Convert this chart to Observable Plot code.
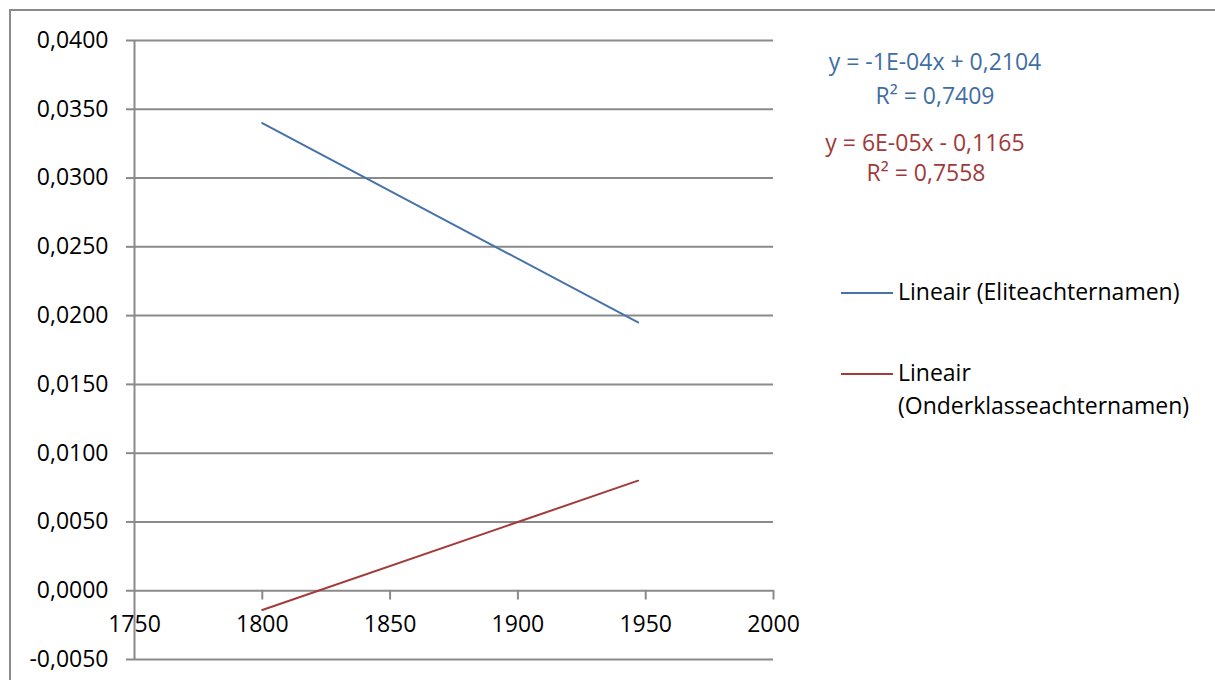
<!DOCTYPE html>
<html>
<head>
<meta charset="utf-8">
<script src="https://cdn.jsdelivr.net/npm/d3@7"></script>
<script src="https://cdn.jsdelivr.net/npm/@observablehq/plot@0.6"></script>
<style>
  html, body { margin: 0; padding: 0; background: #fff; }
  #wrap { position: relative; width: 1215px; height: 680px; overflow: hidden; font-family: "Open Sans", sans-serif; }
  #border { position: absolute; left: 9px; top: 9px; width: 1220px; height: 700px; border-left: 2px solid #8a8a8a; border-top: 2px solid #8a8a8a; box-sizing: border-box; }
  #chart { position: absolute; left: 0; top: 0; }
  .ann { position: absolute; font-size: 23px; white-space: nowrap; transform: translate(-50%, -50%); }
  .leg { position: absolute; font-size: 23px; color: #000; white-space: nowrap; line-height: 33px; }
  .swatch { position: absolute; height: 2px; width: 52px; }
</style>
</head>
<body>
<div id="wrap">
  <div id="border"></div>
  <div id="chart"></div>
</div>
<script>
// Data
const years = [1800, 1947];
const eliteValues = [0.0340, 0.0195];
const onderValues = [-0.0014, 0.0080];
const seriesNames = ["Lineair (Eliteachternamen)", "Lineair (Onderklasseachternamen)"];
const seriesColors = ["#4672a8", "#a33b3b"];
const equations = ["y = -1E-04x + 0,2104", "y = 6E-05x - 0,1165"];
const rSquared = ["R² = 0,7409", "R² = 0,7558"];
const xTicks = [1750, 1800, 1850, 1900, 1950, 2000];
const yTicks = [-0.005, 0, 0.005, 0.01, 0.015, 0.02, 0.025, 0.03, 0.035, 0.04];

const elite = years.map((x, i) => ({x, y: eliteValues[i]}));
const onder = years.map((x, i) => ({x, y: onderValues[i]}));

const fmt = d => d.toFixed(4).replace(".", ",");
const gridColor = "#8a8a8a";

const tickShape = {draw(ctx, l) { ctx.moveTo(0, 0); ctx.lineTo(0, -l); }};

const plot = Plot.plot({
  width: 1215,
  height: 680,
  marginLeft: 134,
  marginRight: 442,
  marginTop: 40,
  marginBottom: 21,
  style: {fontFamily: "Open Sans, sans-serif", fontSize: "23px", color: "#000", background: "transparent"},
  x: {domain: [1750, 2000], axis: null},
  y: {domain: [-0.005, 0.04], axis: null},
  marks: [
    Plot.gridY(yTicks, {stroke: gridColor, strokeOpacity: 1, strokeWidth: 2}),
    Plot.axisY(yTicks, {tickSize: 8, tickPadding: 18, tickFormat: fmt, stroke: gridColor, strokeWidth: 2, fontSize: 23, fill: "#000", label: null}),
    Plot.ruleX([1750], {stroke: gridColor, strokeWidth: 2}),
    Plot.vector(xTicks.slice(1), {x: d => d, y: 0, length: 8, rotate: 180, anchor: "start", shape: tickShape, stroke: gridColor, strokeWidth: 2}),
    Plot.text(xTicks, {x: d => d, y: 0, dy: 34, text: d => String(d), fontSize: 23, fill: "#000"}),
    Plot.line(elite, {x: "x", y: "y", stroke: seriesColors[0], strokeWidth: 2}),
    Plot.line(onder, {x: "x", y: "y", stroke: seriesColors[1], strokeWidth: 2})
  ]
});
document.getElementById("chart").appendChild(plot);

const wrap = document.getElementById("wrap");
const textColors = ["#3f6ea3", "#a03a3a"];
// Equation annotations
const annPos = [[935, 61], [935, 95], [925, 142], [926, 172]];
const annTexts = [equations[0], rSquared[0], equations[1], rSquared[1]];
annTexts.forEach((t, i) => {
  const d = document.createElement("div");
  d.className = "ann";
  d.style.left = annPos[i][0] + "px";
  d.style.top = annPos[i][1] + "px";
  d.style.color = textColors[Math.floor(i / 2)];
  d.textContent = t;
  wrap.appendChild(d);
});
// Legend
const legY = [293, 374];
seriesNames.forEach((name, i) => {
  const s = document.createElement("div");
  s.className = "swatch";
  s.style.left = "841px";
  s.style.top = (legY[i] - 1) + "px";
  s.style.background = seriesColors[i];
  wrap.appendChild(s);
  const t = document.createElement("div");
  t.className = "leg";
  t.style.left = "898px";
  t.style.top = (legY[i] - 18) + "px";
  if (i === 1) {
    t.innerHTML = "Lineair<br>(Onderklasseachternamen)";
  } else {
    t.textContent = name;
  }
  wrap.appendChild(t);
});
</script>
</body>
</html>
